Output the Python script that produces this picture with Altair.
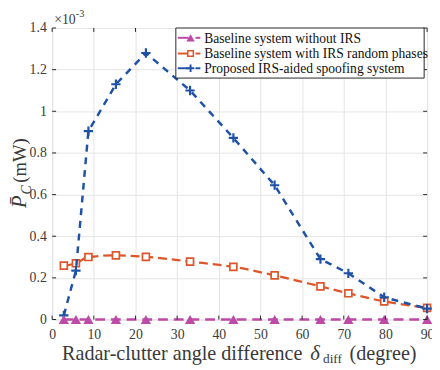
import altair as alt
import pandas as pd

# ---- data (values in units of 1e-3 mW) ----
angles = [2.8, 5.7, 8.7, 15.3, 22.5, 33.1, 43.5, 53.4, 64.4, 71.1, 79.7, 90]
no_irs = [0, 0, 0, 0, 0, 0, 0, 0, 0, 0, 0, 0]
random_phase = [0.259, 0.270, 0.300, 0.308, 0.301, 0.278, 0.253, 0.212, 0.159, 0.126, 0.087, 0.056]
proposed = [0.02, 0.235, 0.905, 1.13, 1.28, 1.10, 0.872, 0.645, 0.29, 0.222, 0.107, 0.052]

labels = ["Baseline system without IRS",
          "Baseline system with IRS random phases",
          "Proposed IRS-aided spoofing system"]
colors = ["#BC4AA6", "#DD5528", "#1F52A6"]

x_ticks = [0, 10, 20, 30, 40, 50, 60, 70, 80, 90]
y_ticks = [0, 0.2, 0.4, 0.6, 0.8, 1.0, 1.2, 1.4]

W, H = 382, 297
FONT = "Liberation Serif"
AX = "#262626"
LAB = "#3a3a3a"
PLUS = "M-1,0H1M0,-1V1"

xs = alt.Scale(domain=[0, 90], nice=False, zero=False)
ys = alt.Scale(domain=[0, 1.4], nice=False)

xaxis = alt.Axis(values=x_ticks, title=None, grid=True, ticks=False, domain=False,
                 labelFlush=False, labelPadding=8)
yaxis = alt.Axis(values=y_ticks, title=None, grid=True, ticks=False, domain=False,
                 format="~g", labelPadding=6)


def X(f="x"):
    return alt.X(f + ":Q", scale=xs, axis=xaxis)


def Y(f="y"):
    return alt.Y(f + ":Q", scale=ys, axis=yaxis)


df_m = pd.DataFrame({"x": angles, "y": no_irs})
df_r = pd.DataFrame({"x": angles, "y": random_phase})
df_b = pd.DataFrame({"x": angles, "y": proposed})

base_m = alt.Chart(df_m).encode(x=X(), y=Y())
line_m = base_m.mark_line(color=colors[0], strokeWidth=2.6, strokeDash=[10, 6], clip=False)
pts_m = base_m.mark_point(shape="triangle-up", filled=True, color=colors[0], size=110,
                          opacity=1, clip=False)

base_r = alt.Chart(df_r).encode(x=X(), y=Y())
line_r = base_r.mark_line(color=colors[1], strokeWidth=2.3, strokeDash=[9, 5],
                          interpolate="monotone")
pts_r = base_r.mark_point(shape="square", filled=True, fill="white", stroke=colors[1],
                          size=50, strokeWidth=1.7, opacity=1, fillOpacity=1)

base_b = alt.Chart(df_b).encode(x=X(), y=Y())
line_b = base_b.mark_line(color=colors[2], strokeWidth=2.5, strokeDash=[7, 6])
pts_b = base_b.mark_point(shape=PLUS, filled=False, color=colors[2], size=90,
                          strokeWidth=2.2, opacity=1)

# inward ticks on all four sides
dfx = pd.DataFrame({"x": x_ticks})
dfy = pd.DataFrame({"y": y_ticks})
tick_xb = alt.Chart(dfx).mark_rule(color=AX, strokeWidth=1).encode(
    x=X(), y=alt.value(H), y2=alt.value(H - 4))
tick_xt = alt.Chart(dfx).mark_rule(color=AX, strokeWidth=1).encode(
    x=X(), y=alt.value(0), y2=alt.value(4))
tick_yl = alt.Chart(dfy).mark_rule(color=AX, strokeWidth=1).encode(
    y=Y(), x=alt.value(0), x2=alt.value(4))
tick_yr = alt.Chart(dfy).mark_rule(color=AX, strokeWidth=1).encode(
    y=Y(), x=alt.value(W), x2=alt.value(W - 4))


def txt(t, x, y, size, style="normal", align="left", baseline="alphabetic", angle=0, color=LAB):
    kw = dict(font=FONT, fontSize=size, fontStyle=style, color=color, align=align,
              baseline=baseline)
    if angle:
        kw["angle"] = angle
    return alt.Chart(pd.DataFrame({"t": [t]})).mark_text(**kw).encode(
        text="t:N", x=alt.value(x), y=alt.value(y))


# exponent label
exp1 = txt("×10", 2, -4, 14)
exp2 = txt("-3", 24, -11, 10.5)

# y title: P-bar_C (mW)
yt1 = txt("P\u0304", -33, 177, 21, style="italic", align="center", baseline="middle", angle=270)
yt2 = txt("C", -26, 165, 14, style="italic", align="center", baseline="middle", angle=270)
yt3 = txt("(mW)", -33, 135, 19, align="center", baseline="middle", angle=270)

# x title: Radar-clutter angle difference delta_diff (degree)
xt1 = txt("Radar-clutter angle difference", 255, H + 41, 20.5, align="right")
xt1b = txt("δ", 263, H + 41, 21, style="italic")
xt2 = txt("diff", 276, H + 44, 13.5)
xt3 = txt("(degree)", 303, H + 41, 20.5)

# legend
LX0, LX1, LY0, LY1 = 126, 379, 0, 51
leg_box = alt.Chart(pd.DataFrame({"a": [0]})).mark_rect(
    fill="white", stroke=AX, strokeWidth=1).encode(
    x=alt.value(LX0), x2=alt.value(LX1), y=alt.value(LY0), y2=alt.value(LY1))

leg_layers = []
rows_y = [10, 26, 41]
leg_marks = [
    dict(shape="triangle-up", filled=True, color=colors[0], size=75),
    dict(shape="square", filled=True, fill="white", stroke=colors[1], size=32,
         strokeWidth=1.5, fillOpacity=1),
    dict(shape=PLUS, filled=False, color=colors[2], size=60, strokeWidth=2),
]
for lab, col, mk, ry in zip(labels, colors, leg_marks, rows_y):
    d = pd.DataFrame({"t": [lab]})
    leg_layers.append(alt.Chart(d).mark_rule(color=col, strokeWidth=2).encode(
        x=alt.value(128), x2=alt.value(139), y=alt.value(ry)))
    leg_layers.append(alt.Chart(d).mark_rule(color=col, strokeWidth=2).encode(
        x=alt.value(146), x2=alt.value(151), y=alt.value(ry)))
    leg_layers.append(alt.Chart(d).mark_point(opacity=1, **mk).encode(
        x=alt.value(141), y=alt.value(ry)))
    leg_layers.append(txt(lab, 155, ry + 1, 13.8, baseline="middle", color="#111111"))

chart = alt.layer(
    line_r, pts_r, line_b, pts_b, line_m, pts_m,
    tick_xb, tick_xt, tick_yl, tick_yr,
    exp1, exp2, yt1, yt2, yt3, xt1, xt1b, xt2, xt3,
    leg_box, *leg_layers
).properties(
    width=W, height=H,
    autosize=alt.AutoSizeParams(type="none"),
    padding={"left": 45, "top": 17, "right": 5, "bottom": 45},
).configure_view(stroke=AX, strokeWidth=1.2).configure(background="white").configure_axis(
    labelFont=FONT, labelFontSize=14, labelColor=LAB, gridColor="#e4e4e4", gridWidth=1
)

chart.save("out.html", embed_options={"renderer": "svg", "actions": False})
